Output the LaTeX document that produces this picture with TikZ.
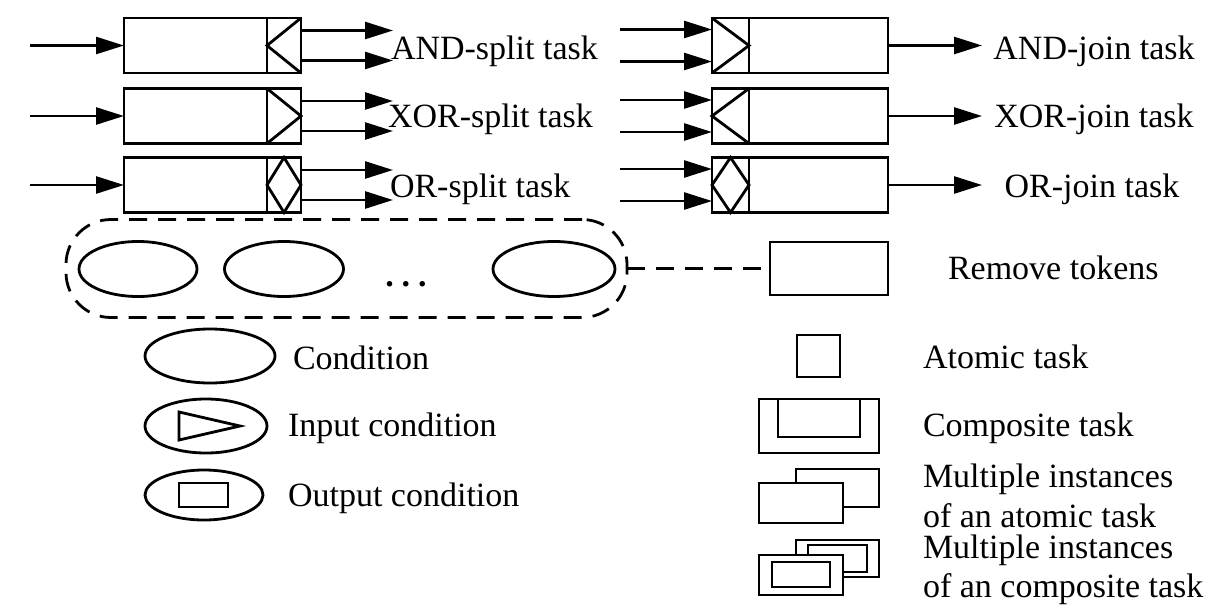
\documentclass[tikz,border=0pt]{standalone}
\usepackage{fontspec}
\setmainfont{Liberation Serif}
\usetikzlibrary{arrows.meta,calc,shapes.geometric}
\begin{document}
\begin{tikzpicture}[x=1pt,y=-1pt,
  every node/.style={font=\fontsize{34}{40}\selectfont, inner sep=0pt, outer sep=0pt},
  lw/.style={line width=2.8pt},
  taskbox/.style={draw, line width=2.8pt, minimum width=177pt, minimum height=55pt},
  arr/.style={line width=2.6pt, -{Triangle[length=28pt,width=17pt]}},
  cond/.style={draw, ellipse, line width=2.8pt},
  lbl/.style={anchor=base west},
  dsh/.style={line width=2.8pt, dash pattern=on 18pt off 11pt},
]
\fill[white] (0,0) rectangle (1227,608);
\useasboundingbox (0,0) rectangle (1227,608);

% ---- split tasks ----
\node[taskbox] (s1) at (212.5,45.5) {};
\node[taskbox] (s2) at (212.5,116) {};
\node[taskbox] (s3) at (212.5,185) {};
\draw[lw] (267,18) -- (267,73);
\draw[lw] (301,18) -- (267,45.5) -- (301,73);
\draw[lw] (267,88.5) -- (267,143.5);
\draw[lw] (267,88.5) -- (301,116) -- (267,143.5);
\draw[lw] (267,157.5) -- (267,212.5);
\draw[lw] (284,157.5) -- (267,185) -- (284,212.5) -- (301,185) -- cycle;

\coordinate (i1) at (30,45.5);
\coordinate (i2) at (30,116);
\coordinate (i3) at (30,185);
\draw[arr] (i1) -- (s1.west);
\draw[arr] (i2) -- (s2.west);
\draw[arr] (i3) -- (s3.west);

\coordinate (s1a) at (393,30.5);
\coordinate (s1b) at (393,60.5);
\coordinate (s2a) at (393,101);
\coordinate (s2b) at (393,131);
\coordinate (s3a) at (393,170);
\coordinate (s3b) at (393,200);
\draw[arr] (s1.east |- s1a) -- (s1a);
\draw[arr] (s1.east |- s1b) -- (s1b);
\draw[arr] (s2.east |- s2a) -- (s2a);
\draw[arr] (s2.east |- s2b) -- (s2b);
\draw[arr] (s3.east |- s3a) -- (s3a);
\draw[arr] (s3.east |- s3b) -- (s3b);

\node[lbl] (ls1) at (391,59) {AND-split task};
\node[lbl] (ls2) at (388,127) {XOR-split task};
\node[lbl] (ls3) at (390,197) {OR-split task};

% ---- join tasks ----
\node[taskbox, minimum width=176pt] (j1) at (800,45.5) {};
\node[taskbox, minimum width=176pt] (j2) at (800,116) {};
\node[taskbox, minimum width=176pt] (j3) at (800,185) {};
\draw[lw] (749,18) -- (749,73);
\draw[lw] (712,18) -- (749,45.5) -- (712,73);
\draw[lw] (749,88.5) -- (749,143.5);
\draw[lw] (749,88.5) -- (712,116) -- (749,143.5);
\draw[lw] (749,157.5) -- (749,212.5);
\draw[lw] (730.5,157.5) -- (712,185) -- (730.5,212.5) -- (749,185) -- cycle;

\coordinate (j1a) at (620,29.5);
\coordinate (j1b) at (620,61.5);
\coordinate (j2a) at (620,100);
\coordinate (j2b) at (620,132);
\coordinate (j3a) at (620,169);
\coordinate (j3b) at (620,201);
\draw[arr] (j1a) -- (j1a -| j1.west);
\draw[arr] (j1b) -- (j1b -| j1.west);
\draw[arr] (j2a) -- (j2a -| j2.west);
\draw[arr] (j2b) -- (j2b -| j2.west);
\draw[arr] (j3a) -- (j3a -| j3.west);
\draw[arr] (j3b) -- (j3b -| j3.west);

\coordinate (jo1) at (982,45.5);
\coordinate (jo2) at (982,116);
\coordinate (jo3) at (982,185);
\draw[arr] (j1.east) -- (jo1);
\draw[arr] (j2.east) -- (jo2);
\draw[arr] (j3.east) -- (jo3);

\node[anchor=base] (lj1) at (1094,59) {AND-join task};
\node[anchor=base] (lj2) at (1094,127) {XOR-join task};
\node[anchor=base] (lj3) at (1092,197) {OR-join task};

% ---- remove tokens ----
\node[draw, dsh, rounded corners=45pt, minimum width=561pt, minimum height=98pt] (grp) at (346.5,268.5) {};
\node[cond, minimum width=118pt, minimum height=55pt] (c1) at (138,269) {};
\node[cond, minimum width=119pt, minimum height=55pt] (c2) at (284,269) {};
\node[cond, minimum width=122pt, minimum height=55pt] (c3) at (554,269) {};
\node (dots) at (406,284) {\textbf{.}\hspace{8pt}\textbf{.}\hspace{8pt}\textbf{.}};
\node[draw, lw, minimum width=118pt, minimum height=53pt] (rm) at (829,268.5) {};
\draw[dsh] (grp.east) -- (rm.west);
\node[lbl] (rmt) at (948,279) {Remove tokens};

% ---- legend left ----
\node[cond, minimum width=130pt, minimum height=54pt] (lc) at (210,356) {};
\node[lbl] (lct) at (293,369) {Condition};
\node[cond, minimum width=122pt, minimum height=54pt] (li) at (206,426) {};
\draw[lw] (179,412) -- (179,440) -- (240,426) -- cycle;
\node[lbl] (lit) at (288,436) {Input condition};
\node[cond, minimum width=118pt, minimum height=50pt] (lo) at (204,495) {};
\draw[lw] (179,483) rectangle (228,507);
\node[lbl] (lot) at (288,506) {Output condition};

% ---- legend right ----
\node[draw, lw, minimum width=43pt, minimum height=42pt] (at) at (818.5,356) {};
\node[lbl] (att) at (923,368) {Atomic task};
\draw[lw] (759,399) rectangle (879,453);
\draw[lw] (778,399) rectangle (860,437);
\node[lbl] (ctt) at (923,436) {Composite task};
\draw[lw] (796,469) rectangle (879,507);
\draw[lw, fill=white] (759,483) rectangle (843,523);
\node[lbl] (mat1) at (923,487) {Multiple instances};
\node[lbl] (mat2) at (923,527) {of an atomic task};
\draw[lw] (796,540) rectangle (879,577);
\draw[lw] (808,545) rectangle (867,572);
\draw[lw, fill=white] (759,555) rectangle (843,595);
\draw[lw] (772,562) rectangle (830,587);
\node[lbl] (mct1) at (923,558) {Multiple instances};
\node[lbl] (mct2) at (923,597) {of an composite task};
\end{tikzpicture}
\end{document}
